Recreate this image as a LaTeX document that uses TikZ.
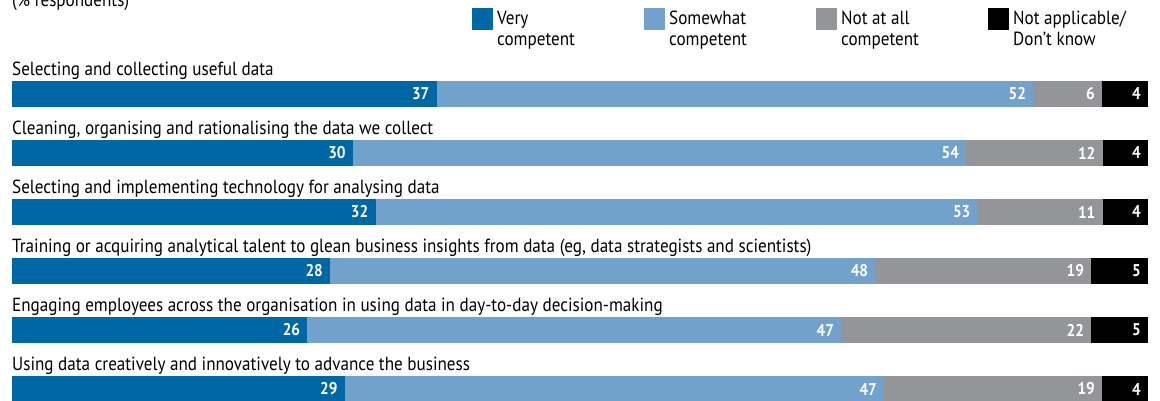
\documentclass[tikz,border=0pt]{standalone}
\usepackage{fontspec}
\setmainfont{PT Sans}[FakeStretch=0.9]
\definecolor{verycomp}{RGB}{0,103,165}
\definecolor{somecomp}{RGB}{114,162,203}
\definecolor{notcomp}{RGB}{147,149,152}
\definecolor{notappl}{RGB}{0,0,0}
\tikzset{
  lbl/.style={inner sep=0pt,font=\fontsize{19}{21}\selectfont},
  num/.style={inner sep=0pt,text=white,font=\fontsize{17}{19}\selectfont\bfseries},
  legtext/.style={inner sep=0pt,align=left,anchor=north west,font=\fontsize{19}{21}\selectfont}
}
\begin{document}
\begin{tikzpicture}[x=1pt,y=-1pt]
        \useasboundingbox (0,0) rectangle (1160,400);

        % header and legend
        \node[lbl,anchor=base west] (unit) at (12,6) {(\% respondents)};
        \fill[verycomp] (472,8) rectangle +(21,22);
        \fill[somecomp] (644,8) rectangle +(21,22);
        \fill[notcomp] (816,8) rectangle +(21,22);
        \fill[notappl] (988,8) rectangle +(21,22);
        \node[legtext] (legvery) at (497,11) {Very\\competent};
        \node[legtext] (legsome) at (669,11) {Somewhat\\competent};
        \node[legtext] (legnot) at (841,11) {Not at all\\competent};
        \node[legtext] (legna) at (1013,11) {Not applicable/\\Don’t know};

        % one bar per row
        \foreach \txt/\a/\b/\c/\d [count=\i] in {
          {Selecting and collecting useful data}/37/52/6/4,
          {Cleaning, organising and rationalising the data we collect}/30/54/12/4,
          {Selecting and implementing technology for analysing data}/32/53/11/4,
          {Training or acquiring analytical talent to glean business insights from data (eg, data strategists and scientists)}/28/48/19/5,
          {Engaging employees across the organisation in using data in day-to-day decision-making}/26/47/22/5,
          {Using data creatively and innovatively to advance the business}/29/47/19/4}
        {
          \pgfmathsetmacro\ytop{81+59*(\i-1)}
          \pgfmathsetmacro\s{1136/(\a+\b+\c+\d)}
          \pgfmathsetmacro\xa{12+\a*\s}
          \pgfmathsetmacro\xb{\xa+\b*\s}
          \pgfmathsetmacro\xc{\xb+\c*\s}
          \node[lbl,anchor=base west] (row\i) at (12,\ytop-6) {\txt};
          \fill[verycomp] (12,\ytop) rectangle (\xa,\ytop+26);
          \fill[somecomp] (\xa,\ytop) rectangle (\xb,\ytop+26);
          \fill[notcomp] (\xb,\ytop) rectangle (\xc,\ytop+26);
          \fill[notappl] (\xc,\ytop) rectangle (1148,\ytop+26);
          \node[num,anchor=east] (va\i) at (\xa-7,\ytop+13) {\a};
          \node[num,anchor=east] (vb\i) at (\xb-7,\ytop+13) {\b};
          \node[num,anchor=east] (vc\i) at (\xc-7,\ytop+13) {\c};
          \node[num,anchor=east] (vd\i) at (1148-7,\ytop+13) {\d};
        }
       \end{tikzpicture}
\end{document}
